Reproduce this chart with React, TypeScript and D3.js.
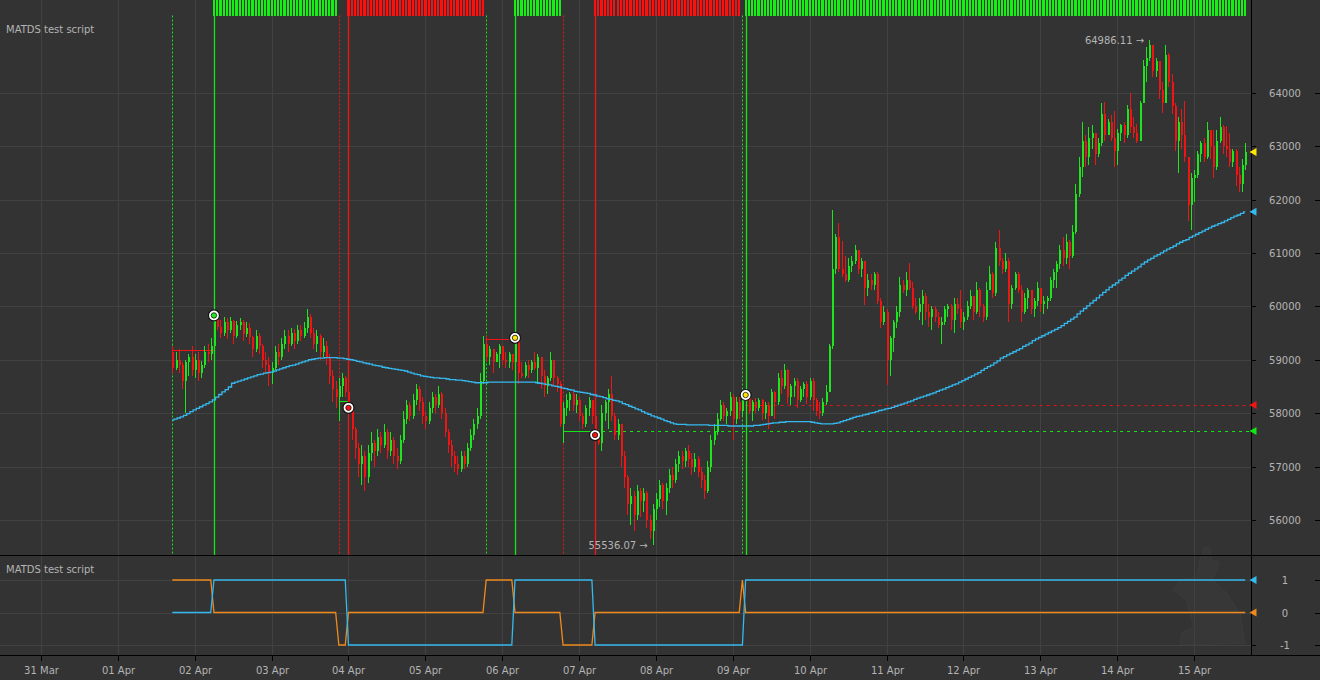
import { useEffect, useRef } from "react";
import * as d3 from "d3";

// tamanho da página
const W = 1320;
const H = 680;

// candles de 1h, BTC, 01 Apr 17:00 (UTC) .. 15 Apr 16:00
const FIRST_CANDLE = Date.UTC(2021, 3, 1, 17);
const HOUR = 3600 * 1000;
const firstOpen = 59150;

const closes = [
  // 0-13
  58850, 59000, 58900, 58600, 58950, 59050, 58800, 59000, 58750, 58900, 59150, 59100, 59250, 59830,
  // 14-55
  59620, 59500, 59700, 59550, 59720, 59450, 59650, 59700, 59480, 59600, 59420, 59200, 59450, 59250,
  59000, 58900, 58750, 58850, 59150, 59050, 59300, 59450, 59300, 59500, 59350, 59550, 59450, 59600,
  59800, 59500, 59300, 59450, 59150, 59250, 59050, 58700, 58450, 58300, 58500, 58650, 58400, 58100,
  // 56-97
  57700, 57350, 57050, 57200, 56800, 57250, 57450, 57300, 57550, 57400, 57650, 57300, 57500, 57200,
  57100, 57500, 57900, 58150, 57950, 58250, 58450, 58200, 57950, 57850, 58100, 58300, 58150, 58350,
  58000, 57650, 57400, 57200, 57050, 56950, 57200, 57050, 57350, 57600, 57800, 57950, 58600, 59300,
  // 98-140
  59050, 59200, 58950, 59100, 59250, 59000, 58950, 59100, 58950, 59410, 58750, 58700, 58900, 58800,
  58950, 58850, 59050, 58700, 58500, 58650, 59000, 58650, 58550, 57800, 58100, 58250, 58350, 58150,
  58250, 57950, 57800, 58100, 58250, 57950, 57590, 57450, 58000, 58200, 58350, 57950, 57600, 57800, 57200,
  // 141-179
  56800, 56300, 56450, 56100, 56550, 56350, 56500, 56000, 55800, 56200, 56400, 56650, 56350, 56600,
  56850, 56750, 57050, 57200, 57100, 57300, 57150, 57000, 57150, 56900, 56750, 56550, 57000, 57500,
  57650, 57900, 58150, 57950, 58050, 58300, 57900, 58200, 58050, 58250, 58340,
  // 180-204
  58050, 58200, 58100, 58250, 58000, 58150, 57950, 58400, 58200, 58650, 58500, 58800, 58300, 58500,
  58600, 58250, 58450, 58550, 58300, 58600, 58250, 58050, 58000, 58200, 58400,
  // 205-277
  59250, 60700, 61300, 60700, 60600, 60500, 60750, 60850, 61050, 60700, 60850, 60350, 60500, 60400,
  60600, 60100, 59700, 59900, 59000, 59400, 59700, 59900, 60400, 60300, 60500, 60350, 60000, 59900,
  60050, 60200, 59900, 59800, 59950, 59800, 59650, 59700, 59950, 60000, 59750, 60050, 59950, 59700,
  59800, 60000, 60200, 59900, 60300, 60000, 59800, 60300, 60600, 60250, 61100, 60850, 60700, 60850,
  60050, 60350, 60600, 60300, 59900, 60150, 60300, 59950, 60100, 60350, 60050, 60100, 60150, 60500,
  60650, 60800, 61050,
  // 278-335
  60900, 61200, 60950, 61400, 62100, 62600, 63100, 62800, 63150, 63250, 62850, 63050, 63600, 63200,
  63450, 63150, 62900, 63250, 63400, 63200, 63700, 63350, 63250, 63100, 63800, 64500, 64650, 64900,
  64400, 64600, 64050, 63800, 64700, 64200, 63750, 63100, 63450, 63200, 62800, 61900, 62400, 62450,
  62850, 63050, 62800, 63300, 63000, 62600, 63100, 63350, 63000, 62950, 62700, 62900, 62450, 62300,
  62650, 62890
];

const highs = [
  59250, 59150, 59200, 58950, 59000, 59100, 59250, 59100, 59150, 58980, 59250, 59300, 59400, 60100,
  59900, 59750, 59800, 59780, 59800, 59750, 59720, 59780, 59750, 59700, 59680, 59450, 59550, 59500,
  59300, 59150, 59050, 58950, 59250, 59300, 59400, 59550, 59550, 59600, 59580, 59650, 59650, 59700,
  59950, 59850, 59600, 59550, 59480, 59400, 59350, 59100, 58800, 58600, 58650, 58750, 58700, 58500,
  58150, 57750, 57450, 57400, 57300, 57400, 57650, 57500, 57700, 57650, 57800, 57700, 57650, 57550,
  57350, 57600, 58050, 58250, 58200, 58350, 58550, 58500, 58300, 58050, 58200, 58400, 58350, 58500,
  58400, 58100, 57700, 57500, 57300, 57200, 57300, 57300, 57450, 57700, 57900, 58100, 58750, 59450,
  59450, 59250, 59150, 59150, 59300, 59250, 59150, 59150, 59100, 59550, 59420, 58950, 58950, 59000,
  59000, 59150, 59100, 59050, 58800, 58700, 59150, 59000, 58700, 58600, 58200, 58350, 58400, 58400,
  58350, 58300, 58000, 58150, 58300, 58250, 58100, 57700, 58150, 58250, 58450, 58700, 58000, 57900, 57800,
  57300, 56850, 56600, 56550, 56650, 56600, 56600, 56550, 56100, 56300, 56500, 56750, 56700, 56700,
  56950, 57000, 57150, 57300, 57300, 57350, 57400, 57250, 57250, 57200, 57000, 56850, 57100, 57600,
  57800, 58000, 58250, 58200, 58100, 58400, 58350, 58300, 58300, 58350, 58450,
  58400, 58250, 58280, 58280, 58260, 58200, 58200, 58450, 58420, 58750, 58800, 58930, 58820, 58550,
  58650, 58650, 58500, 58580, 58600, 58650, 58650, 58280, 58200, 58280, 58520,
  59300, 61800, 61350, 61560, 61230, 60950, 60900, 60950, 61150, 61000, 60900, 60850, 60600, 60600,
  60650, 60650, 60150, 60000, 59950, 59450, 59750, 60000, 60550, 60500, 60650, 60810, 60450, 60150,
  60150, 60300, 60250, 60050, 60000, 60000, 59900, 59800, 60000, 60050, 60050, 60150, 60150, 60300,
  59900, 60100, 60300, 60200, 60450, 60350, 60050, 60450, 60750, 60650, 61200, 61430, 60900, 61000,
  60900, 60400, 60650, 60650, 60400, 60250, 60350, 60300, 60150, 60450, 60350, 60200, 60200, 60550,
  60700, 60850, 61150,
  61300, 61350, 61250, 61520, 62300, 62800, 63450, 63200, 63350, 63400, 63150, 63150, 63800, 63820,
  63500, 63580, 63650, 63320, 63420, 63450, 63770, 64000, 63550, 63420, 63850, 64620, 64850, 64986.11,
  64850, 64650, 64580, 64200, 64900, 64750, 64350, 63800, 63550, 63700, 63850, 62800, 62500, 62550,
  62900, 63100, 63150, 63450, 63250, 63300, 63300, 63550, 63400, 63380, 63250, 62950, 62950, 62600,
  62750, 63050
];

const lows = [
  58750, 58800, 58750, 58450, 58000, 58700, 58700, 58650, 58600, 58650, 58850, 58950, 59000, 59100,
  59550, 59400, 59450, 59380, 59500, 59300, 59400, 59550, 59350, 59420, 59300, 59050, 59150, 59100,
  58850, 58750, 58500, 58550, 58800, 58900, 59000, 59200, 59150, 59250, 59200, 59300, 59350, 59400,
  59500, 59400, 59200, 59150, 59000, 59050, 58900, 58550, 58200, 58100, 57850, 58300, 58300, 57650,
  57500, 57150, 56800, 56650, 56550, 56700, 57100, 57000, 57200, 57250, 57350, 57150, 57200, 57050,
  56950, 57050, 57450, 57800, 57850, 57900, 58150, 58050, 57800, 57700, 57800, 58000, 58000, 58100,
  57900, 57550, 57250, 57000, 56900, 56850, 56900, 56950, 57000, 57300, 57500, 57700, 57900, 58550,
  58950, 58900, 58750, 58950, 58850, 58900, 58850, 58850, 58800, 58950, 58550, 58650, 58650, 58650,
  58750, 58800, 58550, 58450, 58300, 58350, 58600, 58500, 58400, 57750, 57450, 57950, 58050, 58050,
  58000, 57850, 57700, 57750, 57950, 57800, 57550, 57400, 57300, 57850, 57700, 57850, 57500, 57500, 57000,
  56600, 56100, 55900, 55800, 56000, 56050, 56150, 55850, 55650, 55536.07, 56000, 56250, 56200, 56100,
  56500, 56600, 56700, 56900, 56950, 57000, 57000, 56850, 56900, 56800, 56600, 56400, 56500, 56900,
  57400, 57600, 57850, 57850, 57800, 57950, 57500, 57800, 57900, 57950, 58100,
  57980, 57850, 58000, 58050, 57880, 57900, 57700, 57950, 57900, 58150, 58350, 58450, 58180, 58150,
  58300, 58100, 58200, 58300, 58180, 58250, 58050, 57950, 57900, 57950, 58150,
  58400, 59200, 60600, 60650, 60550, 60450, 60450, 60650, 60800, 60600, 60550, 60020, 60200, 60300,
  60300, 60050, 59600, 59650, 58530, 58700, 59150, 59600, 59800, 60250, 60200, 60300, 59950, 59850,
  59750, 59650, 59750, 59620, 59550, 59700, 59600, 59300, 59650, 59800, 59550, 59500, 59850, 59600,
  59550, 59750, 59950, 59750, 59850, 59800, 59700, 59750, 60300, 60150, 60200, 60750, 60600, 60650,
  59700, 59950, 60300, 60250, 59700, 59850, 59950, 59850, 59800, 60000, 59900, 59850, 59950, 60100,
  60350, 60350, 60700,
  60750, 60800, 60700, 60900, 61350, 62050, 62420, 62600, 62650, 62950, 62650, 62800, 63000, 63100,
  63200, 63100, 62600, 62650, 63100, 63050, 63150, 63250, 63150, 63050, 63130, 63800, 64200, 64600,
  64300, 64300, 63880, 63620, 63900, 64100, 63600, 62900, 62500, 62950, 62700, 61600, 61430, 61950,
  62400, 62700, 62700, 62750, 62750, 62400, 62550, 63050, 62850, 62800, 62600, 62600, 62250, 62150,
  62150, 62550
];

// média móvel (linha azul), um valor por candle
const maValues = [
  57870, 57890, 57910, 57930, 57960, 57990, 58030, 58060, 58090, 58120,
  58150, 58180, 58210, 58250, 58300, 58350, 58400, 58440, 58490, 58560,
  58580, 58600, 58620, 58640, 58660, 58680, 58700, 58720, 58730, 58750,
  58760, 58770, 58790, 58810, 58830, 58850, 58870, 58890, 58900, 58920,
  58940, 58960, 58980, 59000, 59010, 59020, 59030, 59030, 59040, 59040,
  59040, 59040, 59030, 59030, 59020, 59010, 59000, 58990, 58970, 58960,
  58940, 58930, 58920, 58900, 58890, 58880, 58860, 58850, 58840, 58830,
  58820, 58810, 58800, 58790, 58770, 58750, 58730, 58720, 58700, 58690,
  58680, 58670, 58660, 58660, 58650, 58650, 58640, 58630, 58630, 58620,
  58620, 58610, 58600, 58590, 58580, 58570, 58570, 58570, 58570, 58580,
  58580, 58580, 58580, 58580, 58580, 58580, 58580, 58580, 58580, 58580,
  58580, 58580, 58580, 58580, 58570, 58560, 58550, 58540, 58530, 58510,
  58500, 58490, 58470, 58460, 58440, 58430, 58410, 58400, 58390, 58380,
  58370, 58350, 58340, 58320, 58310, 58290, 58270, 58260, 58240, 58230,
  58210, 58180, 58160, 58130, 58110, 58080, 58060, 58030, 58000, 57980,
  57950, 57930, 57910, 57890, 57860, 57840, 57820, 57800, 57790, 57790,
  57790, 57780, 57780, 57780, 57780, 57780, 57780, 57780, 57770, 57770,
  57770, 57770, 57770, 57770, 57760, 57760, 57760, 57760, 57760, 57760,
  57760, 57760, 57770, 57770, 57780, 57790, 57800, 57810, 57820, 57820,
  57830, 57830, 57840, 57840, 57840, 57840, 57840, 57840, 57840, 57840,
  57830, 57820, 57810, 57800, 57800, 57800, 57800, 57810, 57820, 57840,
  57860, 57880, 57900, 57920, 57940, 57950, 57970, 57980, 58000, 58010,
  58030, 58050, 58060, 58080, 58090, 58110, 58130, 58150, 58170, 58190,
  58210, 58230, 58260, 58280, 58300, 58320, 58340, 58360, 58380, 58410,
  58430, 58450, 58480, 58500, 58530, 58550, 58580, 58610, 58640, 58670,
  58700, 58730, 58760, 58800, 58840, 58870, 58900, 58940, 58980, 59030,
  59060, 59090, 59120, 59150, 59180, 59210, 59250, 59280, 59310, 59360,
  59390, 59420, 59450, 59480, 59510, 59540, 59570, 59600, 59640, 59680,
  59720, 59760, 59800, 59860, 59910, 59960, 60010, 60060, 60110, 60160,
  60210, 60260, 60310, 60360, 60400, 60440, 60490, 60530, 60580, 60620,
  60660, 60700, 60740, 60790, 60830, 60870, 60900, 60940, 60970, 61000,
  61040, 61070, 61100, 61130, 61170, 61200, 61230, 61250, 61290, 61320,
  61350, 61380, 61410, 61440, 61470, 61500, 61520, 61550, 61570, 61600,
  61630, 61660, 61690, 61710, 61740, 61770
];

// estados do painel inferior: [valor, nº de candles]
const blueRuns: [number, number][] = [[0, 13], [1, 42], [-1, 52], [1, 25], [-1, 47], [1, 157]];
const orangeRuns: [number, number][] = [
  [1, 13], [0, 39], [-1, 3], [0, 43], [1, 9], [0, 15], [-1, 10], [0, 46], [1, 1], [0, 157]
];

const priceTicks = [56000, 57000, 58000, 59000, 60000, 61000, 62000, 63000, 64000];
const signalTicks = [1, 0, -1];

// marcadores (sobre o fechamento do candle)
const markers = [
  { index: 13, color: "#22e622" },
  { index: 55, color: "#f01414" },
  { index: 107, color: "#ffe600" },
  { index: 132, color: "#f01414" },
  { index: 179, color: "#ffe600" }
];

// linhas verticais de sinal
const signalLines = [
  { index: 0, color: "#14e614", dashed: true },
  { index: 13, color: "#14e614", dashed: false },
  { index: 52, color: "#f01414", dashed: true },
  { index: 55, color: "#f01414", dashed: false },
  { index: 98, color: "#14e614", dashed: true },
  { index: 107, color: "#14e614", dashed: false },
  { index: 122, color: "#f01414", dashed: true },
  { index: 132, color: "#f01414", dashed: false },
  { index: 178, color: "#14e614", dashed: true },
  { index: 179, color: "#14e614", dashed: false }
];

// níveis horizontais (to = -1 -> até o eixo)
const levels = [
  { from: 0, to: 13, value: 59180, color: "#f01414", dotted: false },
  { from: 52, to: 55, value: 58234, color: "#14e614", dotted: false },
  { from: 98, to: 107, value: 59390, color: "#f01414", dotted: false },
  { from: 122, to: 132, value: 57667, color: "#14e614", dotted: false },
  { from: 132, to: -1, value: 57667, color: "#14e614", dotted: true },
  { from: 179, to: -1, value: 58153, color: "#e01414", dotted: true }
];

const extremes = [
  { index: 305, value: 64986.11 },
  { index: 150, value: 55536.07 }
];

const BG = "#333333";
const GRID = "#414141";
const TEXT = "#b4b4b4";
const UP = "#1ee61e";
const DOWN = "#f01414";
const MA_COLOR = "#35b9ef";
const ORANGE = "#f08a1c";
const FONT = "'DejaVu Sans', Verdana, sans-serif";

const AXIS_X = 1251.5;
const MAIN_BOTTOM = 555.5;
const LOWER_BOTTOM = 655.5;

const RABBIT =
  "M1205,546.7 L1210,548.3 L1211.7,560 L1219.3,561.7 L1215,573.3 L1213.3,580 L1226.7,593.3 " +
  "L1240,613.3 L1243.3,633.3 L1245,643.3 L1180,645 L1181.7,633.3 L1193.3,626.7 L1190,613.3 " +
  "L1186.7,600 L1173.3,590 L1180,580 L1196.7,576.7 L1200,560 Z";

const expand = (runs: [number, number][]) => runs.flatMap(([v, n]) => Array(n).fill(v) as number[]);

export default function App() {
  const svgRef = useRef<SVGSVGElement>(null);

  useEffect(() => {
    if (!svgRef.current) return;
    document.body.style.margin = "0";

    const svg = d3.select(svgRef.current);
    svg.selectAll("*").remove();

    const x = d3.scaleUtc()
      .domain([new Date(Date.UTC(2021, 2, 31)), new Date(Date.UTC(2021, 3, 15))])
      .range([41, 1194]);
    const y = d3.scaleLinear().domain([56000, 64000]).range([520, 92.7]);
    const ySig = d3.scaleLinear().domain([-1, 1]).range([645, 580]);

    const cx = (i: number) => x(new Date(FIRST_CANDLE + i * HOUR));

    const candles = closes.map((c, i) => {
      const o = i === 0 ? firstOpen : closes[i - 1];
      return { i, o, c, h: Math.max(highs[i], o, c), l: Math.min(lows[i], o, c) };
    });
    const blue = expand(blueRuns);
    const orange = expand(orangeRuns);

    svg.append("rect").attr("width", W).attr("height", H).attr("fill", BG);

    // marca d'água
    svg.append("path").attr("d", RABBIT).attr("fill", "#373737").attr("stroke", "#3b3b3b");

    // grade vertical (dias)
    const days = x.ticks(d3.utcDay.every(1)!);
    svg.append("g")
      .selectAll("line")
      .data(days)
      .enter()
      .append("line")
      .attr("x1", (d) => Math.round(x(d)) + 0.5)
      .attr("x2", (d) => Math.round(x(d)) + 0.5)
      .attr("y1", 0)
      .attr("y2", LOWER_BOTTOM)
      .attr("stroke", GRID);

    // grade horizontal
    svg.append("g")
      .selectAll("line")
      .data(priceTicks)
      .enter()
      .append("line")
      .attr("x1", 0)
      .attr("x2", AXIS_X)
      .attr("y1", (d) => Math.round(y(d)) + 0.5)
      .attr("y2", (d) => Math.round(y(d)) + 0.5)
      .attr("stroke", GRID);

    svg.append("g")
      .selectAll("line")
      .data(signalTicks)
      .enter()
      .append("line")
      .attr("x1", 0)
      .attr("x2", AXIS_X)
      .attr("y1", (d) => Math.round(ySig(d)) + 0.5)
      .attr("y2", (d) => Math.round(ySig(d)) + 0.5)
      .attr("stroke", GRID);

    // níveis horizontais
    levels.forEach((lv) => {
      const yy = Math.round(y(lv.value)) + 0.5;
      svg.append("line")
        .attr("x1", cx(lv.from))
        .attr("x2", lv.to < 0 ? AXIS_X : cx(lv.to))
        .attr("y1", yy)
        .attr("y2", yy)
        .attr("stroke", lv.color)
        .attr("stroke-width", 1)
        .attr("stroke-dasharray", lv.dotted ? "3,4" : null);
    });

    // linhas verticais de sinal
    signalLines.forEach((s) => {
      const xx = Math.round(cx(s.index)) + 0.5;
      svg.append("line")
        .attr("x1", xx)
        .attr("x2", xx)
        .attr("y1", 15.5)
        .attr("y2", MAIN_BOTTOM)
        .attr("stroke", s.color)
        .attr("stroke-width", s.dashed ? 1 : 1.3)
        .attr("stroke-dasharray", s.dashed ? "2,2" : null);
    });

    // faixa de sinais no topo
    svg.append("g")
      .attr("shape-rendering", "crispEdges")
      .selectAll("rect")
      .data(candles.filter((d) => orange[d.i] === 0 && blue[d.i] !== 0))
      .enter()
      .append("rect")
      .attr("x", (d) => cx(d.i) - 1)
      .attr("y", 0)
      .attr("width", 2.2)
      .attr("height", 15.5)
      .attr("fill", (d) => (blue[d.i] > 0 ? "#14f014" : "#ff1010"));

    // candles
    const gc = svg.append("g").attr("shape-rendering", "crispEdges");
    gc.selectAll("line")
      .data(candles)
      .enter()
      .append("line")
      .attr("x1", (d) => Math.round(cx(d.i)) + 0.5)
      .attr("x2", (d) => Math.round(cx(d.i)) + 0.5)
      .attr("y1", (d) => y(d.h))
      .attr("y2", (d) => y(d.l))
      .attr("stroke", (d) => (d.c >= d.o ? UP : DOWN));
    gc.selectAll("rect")
      .data(candles)
      .enter()
      .append("rect")
      .attr("x", (d) => Math.round(cx(d.i)))
      .attr("width", 2)
      .attr("y", (d) => y(Math.max(d.o, d.c)))
      .attr("height", (d) => Math.max(1, Math.abs(y(d.o) - y(d.c))))
      .attr("fill", (d) => (d.c >= d.o ? UP : DOWN));

    // média móvel
    const maLine = d3.line<number>()
      .x((_, i) => cx(i))
      .y((d) => y(d))
      .curve(d3.curveStep);
    svg.append("path")
      .datum(maValues)
      .attr("fill", "none")
      .attr("stroke", MA_COLOR)
      .attr("stroke-width", 1.3)
      .attr("d", maLine);

    // marcadores
    markers.forEach((m) => {
      const mx = cx(m.index);
      const my = y(closes[m.index]);
      svg.append("circle").attr("cx", mx).attr("cy", my).attr("r", 5.5)
        .attr("fill", "#fff").attr("stroke", "#111").attr("stroke-width", 1.2);
      svg.append("circle").attr("cx", mx).attr("cy", my).attr("r", 2.7)
        .attr("fill", m.color).attr("stroke", "#111").attr("stroke-width", 0.8);
    });

    // máxima e mínima
    extremes.forEach((e) => {
      svg.append("text")
        .attr("x", cx(e.index) - 5)
        .attr("y", y(e.value) + 4)
        .attr("text-anchor", "end")
        .attr("fill", TEXT)
        .style("font-family", FONT)
        .style("font-size", "10px")
        .text(`${e.value.toFixed(2)} \u2192`);
    });

    // painel inferior
    const sigLine = d3.line<number>().x((_, i) => cx(i)).y((d) => ySig(d));
    svg.append("path").datum(orange).attr("fill", "none").attr("stroke", ORANGE)
      .attr("stroke-width", 1.3).attr("d", sigLine);
    svg.append("path").datum(blue).attr("fill", "none").attr("stroke", MA_COLOR)
      .attr("stroke-width", 1.3).attr("d", sigLine);

    // bordas
    svg.append("line").attr("x1", 0).attr("x2", W).attr("y1", MAIN_BOTTOM).attr("y2", MAIN_BOTTOM)
      .attr("stroke", "#000");
    svg.append("line").attr("x1", 0).attr("x2", W).attr("y1", LOWER_BOTTOM).attr("y2", LOWER_BOTTOM)
      .attr("stroke", "#000");
    svg.append("line").attr("x1", AXIS_X).attr("x2", AXIS_X).attr("y1", 0).attr("y2", LOWER_BOTTOM)
      .attr("stroke", "#000");

    // eixo X
    const xa = svg.append("g");
    days.forEach((d) => {
      const xx = Math.round(x(d)) + 0.5;
      if (xx > AXIS_X) return;
      xa.append("line").attr("x1", xx).attr("x2", xx).attr("y1", LOWER_BOTTOM).attr("y2", 661)
        .attr("stroke", "#000");
      xa.append("text")
        .attr("x", xx)
        .attr("y", 674)
        .attr("text-anchor", "middle")
        .attr("fill", TEXT)
        .style("font-family", FONT)
        .style("font-size", "10px")
        .text(d3.utcFormat("%d %b")(d));
    });

    // eixo Y (direita)
    const yTicks = [
      ...priceTicks.map((v) => ({ yy: y(v), label: String(v) })),
      ...signalTicks.map((v) => ({ yy: ySig(v), label: String(v) }))
    ];
    yTicks.forEach((t) => {
      const yy = Math.round(t.yy) + 0.5;
      svg.append("line").attr("x1", AXIS_X).attr("x2", 1256).attr("y1", yy).attr("y2", yy).attr("stroke", "#000");
      svg.append("line").attr("x1", 1315).attr("x2", W).attr("y1", yy).attr("y2", yy).attr("stroke", "#000");
      svg.append("text")
        .attr("x", 1285)
        .attr("y", t.yy + 4)
        .attr("text-anchor", "middle")
        .attr("fill", TEXT)
        .style("font-family", FONT)
        .style("font-size", "10px")
        .text(t.label);
    });

    // triângulos no eixo
    const last = closes.length - 1;
    const flags = [
      { yy: y(closes[last]), color: "#ffe600" },
      { yy: y(maValues[last]), color: MA_COLOR },
      { yy: y(58153), color: "#f01414" },
      { yy: y(57667), color: "#14e614" },
      { yy: ySig(blue[last]), color: MA_COLOR },
      { yy: ySig(orange[last]), color: ORANGE }
    ];
    flags.forEach((f) => {
      svg.append("path")
        .attr("d", `M${AXIS_X - 2},${f.yy} L${AXIS_X + 5},${f.yy - 4} L${AXIS_X + 5},${f.yy + 4} Z`)
        .attr("fill", f.color);
    });

    // títulos
    [33, 573].forEach((ty) => {
      svg.append("text")
        .attr("x", 6)
        .attr("y", ty)
        .attr("fill", TEXT)
        .style("font-family", FONT)
        .style("font-size", "10px")
        .text("MATDS test script");
    });
  }, []);

  return (
    <svg
      ref={svgRef}
      width={W}
      height={H}
      style={{ position: "absolute", left: 0, top: 0, display: "block" }}
    />
  );
}
